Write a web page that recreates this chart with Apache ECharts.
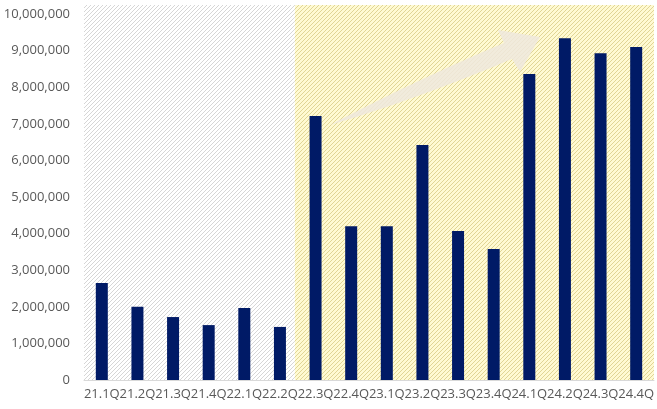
<!DOCTYPE html>
<html><head><meta charset="utf-8">
<script src="https://cdn.jsdelivr.net/npm/echarts@6/dist/echarts.min.js"></script>
<style>html,body{margin:0;padding:0;background:#fff}#c{width:657px;height:409px}</style>
</head><body><div id="c"></div>
<script>
const categories = ['21.1Q','21.2Q','21.3Q','21.4Q','22.1Q','22.2Q','22.3Q','22.4Q','23.1Q','23.2Q','23.3Q','23.4Q','24.1Q','24.2Q','24.3Q','24.4Q'];
const values = [2650000,2000000,1720000,1500000,1970000,1450000,7210000,4200000,4200000,6420000,4070000,3580000,8360000,9340000,8930000,9100000];
const yTicks = [0,1000000,2000000,3000000,4000000,5000000,6000000,7000000,8000000,9000000,10000000];

function hatch(bg, line){
  const c = document.createElement('canvas');
  c.width = 4; c.height = 4;
  const g = c.getContext('2d');
  g.fillStyle = bg; g.fillRect(0,0,4,4);
  g.strokeStyle = line; g.lineWidth = 1;
  g.beginPath();
  g.moveTo(0,4); g.lineTo(4,0);
  g.moveTo(-1,1); g.lineTo(1,-1);
  g.moveTo(3,5); g.lineTo(5,3);
  g.stroke();
  return c;
}
const grayPat = {image: hatch('#ffffff','#d6d6d6'), repeat:'repeat'};
const yellowPat = {image: hatch('#fffad2','#e0d595'), repeat:'repeat'};

function quadPts(p0, c, p1, n){
  const out = [];
  for(let i=0;i<=n;i++){
    const t=i/n, u=1-t;
    out.push([u*u*p0[0]+2*u*t*c[0]+t*t*p1[0], u*u*p0[1]+2*u*t*c[1]+t*t*p1[1]]);
  }
  return out;
}

const chart = echarts.init(document.getElementById('c'));
chart.setOption({
  animation:false,
  grid:{left:84,right:0,top:14,bottom:29},
  xAxis:{type:'category',data:categories,
    axisLine:{lineStyle:{color:'#d9d9d9'}},axisTick:{show:false},
    axisLabel:{interval:0,color:'#595959',fontSize:13,fontFamily:'Open Sans',margin:8}},
  yAxis:{type:'value',min:yTicks[0],max:yTicks[yTicks.length-1],interval:yTicks[1]-yTicks[0],
    splitLine:{show:false},axisLine:{show:false},axisTick:{show:false},
    axisLabel:{color:'#595959',fontSize:13,fontFamily:'Open Sans',margin:14,
      formatter:v=>v.toLocaleString('en-US')}},
  series:[{type:'bar',data:values,barWidth:12,itemStyle:{color:'#001a66'},z:5}]
});

function drawBg(){
  const p0 = chart.convertToPixel({xAxisIndex:0},categories[0]);
  const p5 = chart.convertToPixel({xAxisIndex:0},categories[5]);
  const p6 = chart.convertToPixel({xAxisIndex:0},categories[6]);
  const band = p6 - p5;
  const left = p0 - band/2;
  const split = p5 + band*0.42;
  const right = chart.convertToPixel({xAxisIndex:0},categories[categories.length-1]) + band/2;
  const yBottom = chart.convertToPixel({yAxisIndex:0},0);
  const yTop = chart.convertToPixel({yAxisIndex:0},yTicks[yTicks.length-1]) - 9;
  const upper = quadPts([330,125],[420,78],[504,43],20);
  const lower = quadPts([512,59],[420,98],[330,125],20);
  const arrow = upper.concat([[498,30],[540,37],[520,72]]).concat(lower);
  chart.setOption({graphic:[
    {type:'rect',z:-10,silent:true,shape:{x:left,y:yTop,width:split-left,height:yBottom-yTop},style:{fill:grayPat}},
    {type:'rect',z:-10,silent:true,shape:{x:split,y:yTop,width:right-split,height:yBottom-yTop},style:{fill:yellowPat}},
    {type:'polygon',z:-5,silent:true,shape:{points:arrow},style:{fill:'rgba(238,232,222,0.85)'}}
  ]});
}
drawBg();
</script></body></html>
